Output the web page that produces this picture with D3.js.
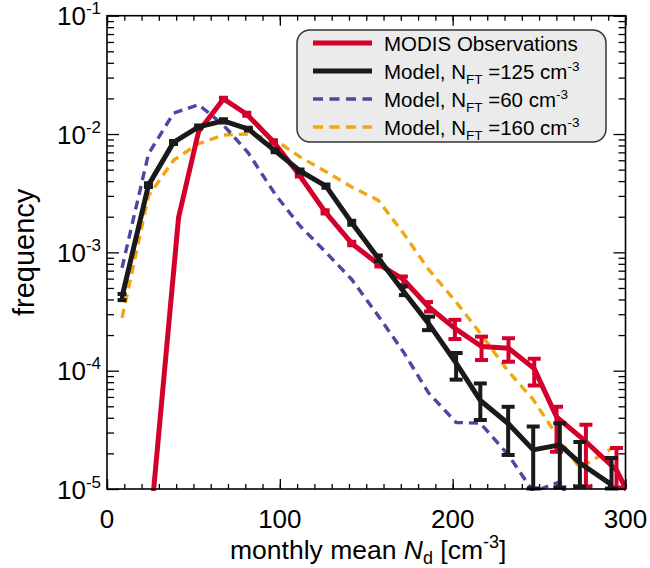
<!DOCTYPE html>
<html><head><meta charset="utf-8">
<script src="https://cdn.jsdelivr.net/npm/d3@7"></script>
<style>
body{margin:0;background:#fff}
svg{display:block}
text{font-family:"Liberation Sans",Arial,sans-serif;fill:#000}
</style>
</head><body>
<svg id="c" width="650" height="568"></svg>
<script>
// ---------- data ----------
const xTicksMajor = [0, 100, 200, 300];
const xTicksMinor = d3.range(0, 301, 10);
const yTicksMajor = [1e-1, 1e-2, 1e-3, 1e-4, 1e-5];
const yTickExp = ["-1", "-2", "-3", "-4", "-5"];

// MODIS observations (bin mean Nd, frequency, error low/high)
const modisX  = [7.5, 24, 41.4, 53, 67.4, 80.9, 96.3, 111.3, 126.2, 141.6, 157.3, 171.5, 186, 201.3, 216.7, 232.3, 247.2, 260.1, 277.1, 294.8, 305];
const modisY  = [1e-6, 3.3e-6, 1.97e-3, 1.05e-2, 1.98e-2, 1.47e-2, 8.6e-3, 4.5e-3, 2.2e-3, 1.19e-3, 7.9e-4, 5.9e-4, 3.47e-4, 2.28e-4, 1.6e-4, 1.55e-4, 1.04e-4, 4.07e-5, 2.51e-5, 1.44e-5, 7.4e-6];
const modisLo = [null, null, null, null, 1.93e-2, 1.43e-2, 8.35e-3, 4.37e-3, 2.13e-3, 1.15e-3, 7.6e-4, 5.3e-4, 3.16e-4, 1.85e-4, 1.23e-4, 1.19e-4, 7.5e-5, 2.06e-5, 1.05e-5, 1.03e-5, null];
const modisHi = [null, null, null, null, 2.03e-2, 1.51e-2, 8.85e-3, 4.63e-3, 2.27e-3, 1.23e-3, 8.2e-4, 6.25e-4, 3.8e-4, 2.69e-4, 1.94e-4, 1.88e-4, 1.26e-4, 4.95e-5, 3.49e-5, 2.22e-5, null];

// Model runs
const modelX = [8.7, 24, 38.5, 53, 67.4, 81.8, 97.3, 111.7, 126.7, 141.6, 157, 171.5, 186, 202, 216, 232.1, 246.6, 262, 273.6, 291.9];
const model125   = [4.2e-4, 3.7e-3, 8.5e-3, 1.15e-2, 1.29e-2, 1.1e-2, 7.2e-3, 4.87e-3, 3.63e-3, 1.78e-3, 8.9e-4, 4.7e-4, 2.51e-4, 1.16e-4, 5.6e-5, 3.58e-5, 2.14e-5, 2.36e-5, 1.66e-5, 1.09e-5];
const model125Lo = [3.95e-4, 3.57e-3, 8.25e-3, 1.12e-2, 1.25e-2, 1.07e-2, 7.0e-3, 4.72e-3, 3.52e-3, 1.71e-3, 8.45e-4, 4.35e-4, 2.2e-4, 8.4e-5, 3.83e-5, 1.94e-5, 1.01e-5, 1.03e-5, 1.05e-5, 1.01e-5];
const model125Hi = [4.45e-4, 3.83e-3, 8.75e-3, 1.18e-2, 1.33e-2, 1.13e-2, 7.4e-3, 5.02e-3, 3.74e-3, 1.85e-3, 9.4e-4, 5.15e-4, 2.86e-4, 1.41e-4, 7.8e-5, 4.95e-5, 3.37e-5, 3.6e-5, 2.5e-5, 1.83e-5];
const model60  = [7.4e-4, 6.8e-3, 1.5e-2, 1.77e-2, 1.19e-2, 6.9e-3, 3.1e-3, 1.67e-3, 1.0e-3, 5.9e-4, 2.9e-4, 1.44e-4, 6.5e-5, 3.65e-5, 3.6e-5, 1.95e-5, 9.5e-6, 1.15e-5, 5e-6, 4e-6];
const model160 = [2.8e-4, 3.0e-3, 6.0e-3, 8.3e-3, 9.8e-3, 1.0e-2, 8.9e-3, 6.4e-3, 4.8e-3, 3.57e-3, 2.75e-3, 1.45e-3, 7.2e-4, 3.8e-4, 2.07e-4, 9.9e-5, 5.7e-5, 2.6e-5, 1.5e-5, 2.2e-5];

const legendLabels = ["MODIS Observations", "Model, N", "Model, N", "Model, N"];
const legendNft = [null, "125", "60", "160"];

// ---------- layout ----------
const L = 107, R = 625.5, T = 15.7, B = 489;
const C_RED = "#d2002b", C_BLK = "#1a1a1a", C_BLUE = "#4a48a2", C_ORG = "#f2a612";

const svg = d3.select("#c");
const x = d3.scaleLinear().domain([0, 300]).range([L, R]);
const y = d3.scaleLog().domain([1e-5, 1e-1]).range([B, T]);

svg.append("defs").append("clipPath").attr("id", "clip")
  .append("rect").attr("x", L).attr("y", T).attr("width", R - L).attr("height", B - T + 2);

// ---------- axes (ticks on all four sides, inward) ----------
const yMinor = y.ticks().filter(v => !yTicksMajor.some(m => Math.abs(m - v) / m < 1e-6));
function styleAxis(g) {
  g.select(".domain").remove();
  g.selectAll("line").attr("stroke", "#000").attr("stroke-width", 1.3);
  g.selectAll("text").remove();
}
svg.append("g").attr("transform", `translate(0,${B})`).call(d3.axisBottom(x).tickValues(xTicksMajor).tickSize(-10)).call(styleAxis);
svg.append("g").attr("transform", `translate(0,${B})`).call(d3.axisBottom(x).tickValues(xTicksMinor).tickSize(-5)).call(styleAxis);
svg.append("g").attr("transform", `translate(0,${T})`).call(d3.axisTop(x).tickValues(xTicksMajor).tickSize(-10)).call(styleAxis);
svg.append("g").attr("transform", `translate(0,${T})`).call(d3.axisTop(x).tickValues(xTicksMinor).tickSize(-5)).call(styleAxis);
svg.append("g").attr("transform", `translate(${L},0)`).call(d3.axisLeft(y).tickValues(yTicksMajor).tickSize(-12)).call(styleAxis);
svg.append("g").attr("transform", `translate(${L},0)`).call(d3.axisLeft(y).tickValues(yMinor).tickSize(-7)).call(styleAxis);
svg.append("g").attr("transform", `translate(${R},0)`).call(d3.axisRight(y).tickValues(yTicksMajor).tickSize(-12)).call(styleAxis);
svg.append("g").attr("transform", `translate(${R},0)`).call(d3.axisRight(y).tickValues(yMinor).tickSize(-7)).call(styleAxis);

// tick labels
svg.append("g").selectAll("text").data(xTicksMajor).join("text")
  .attr("x", d => x(d)).attr("y", 528).attr("text-anchor", "middle")
  .attr("font-size", 26).text(d => d);

const yl = svg.append("g").selectAll("text").data(yTicksMajor).join("text")
  .attr("x", 101).attr("y", d => y(d) + 9.5).attr("text-anchor", "end").attr("font-size", 26);
yl.append("tspan").text("10");
yl.append("tspan").attr("font-size", 17).attr("dy", -11).text((d, i) => yTickExp[i]);

// axis titles
const xt = svg.append("text").attr("x", (L + R) / 2 + 2).attr("y", 559).attr("text-anchor", "middle").attr("font-size", 26.5);
xt.append("tspan").text("monthly mean ");
xt.append("tspan").attr("font-style", "italic").text("N");
xt.append("tspan").attr("font-size", 18).attr("dy", 5).text("d");
xt.append("tspan").attr("dy", -5).text(" [cm");
xt.append("tspan").attr("font-size", 18).attr("dy", -11).text("-3");
xt.append("tspan").attr("dy", 11).text("]");

svg.append("text").attr("transform", `translate(34,${(T + B) / 2}) rotate(-90)`)
  .attr("text-anchor", "middle").attr("font-size", 29).text("frequency");

// ---------- series ----------
const plot = svg.append("g").attr("clip-path", "url(#clip)");
const line = d3.line().x(d => x(d[0])).y(d => y(d[1]));
const pts = (xs, ys) => xs.map((v, i) => [v, ys[i]]);

plot.append("path").datum(pts(modelX, model160)).attr("d", line)
  .attr("fill", "none").attr("stroke", C_ORG).attr("stroke-width", 3.4).attr("stroke-dasharray", "9,6");
plot.append("path").datum(pts(modelX, model60)).attr("d", line)
  .attr("fill", "none").attr("stroke", C_BLUE).attr("stroke-width", 3.4).attr("stroke-dasharray", "9,6");

function errBars(xs, lo, hi, color) {
  const g = plot.append("g").attr("stroke", color).attr("stroke-width", 4);
  xs.forEach((xv, i) => {
    if (lo[i] == null) return;
    const cx = x(xv), y0 = y(lo[i]), y1 = y(hi[i]);
    const hw = (y0 - y1) < 12 ? 4.5 : 6.5;
    g.append("line").attr("x1", cx).attr("x2", cx).attr("y1", y0).attr("y2", y1);
    g.append("line").attr("x1", cx - hw).attr("x2", cx + hw).attr("y1", y0).attr("y2", y0);
    g.append("line").attr("x1", cx - hw).attr("x2", cx + hw).attr("y1", y1).attr("y2", y1);
  });
}

plot.append("path").datum(pts(modisX, modisY)).attr("d", line)
  .attr("fill", "none").attr("stroke", C_RED).attr("stroke-width", 5).attr("stroke-linejoin", "round");
errBars(modisX, modisLo, modisHi, C_RED);
plot.append("path").datum(pts(modelX, model125)).attr("d", line)
  .attr("fill", "none").attr("stroke", C_BLK).attr("stroke-width", 5).attr("stroke-linejoin", "round");
errBars(modelX, model125Lo, model125Hi, C_BLK);

// frame
svg.append("rect").attr("x", L).attr("y", T).attr("width", R - L).attr("height", B - T)
  .attr("fill", "none").attr("stroke", "#000").attr("stroke-width", 1.6);

// ---------- legend ----------
const lg = svg.append("g");
lg.append("rect").attr("x", 297).attr("y", 30).attr("width", 309).attr("height", 112).attr("rx", 13)
  .attr("fill", "#ebebeb").attr("stroke", "#333").attr("stroke-width", 1.5);
const legendStyles = [
  {c: C_RED, w: 5, dash: null},
  {c: C_BLK, w: 5, dash: null},
  {c: C_BLUE, w: 3.4, dash: "10,6.5"},
  {c: C_ORG, w: 3.4, dash: "10,6.5"}
];
const rowY = [43, 71, 99, 127];
legendLabels.forEach((lab, i) => {
  const st = legendStyles[i];
  lg.append("line").attr("x1", 313).attr("x2", 372).attr("y1", rowY[i]).attr("y2", rowY[i])
    .attr("stroke", st.c).attr("stroke-width", st.w).attr("stroke-dasharray", st.dash);
  const t = lg.append("text").attr("x", 384).attr("y", rowY[i] + 7.5).attr("font-size", 20.5);
  t.append("tspan").text(lab);
  if (legendNft[i]) {
    t.append("tspan").attr("font-size", 13.5).attr("dy", 5).text("FT");
    t.append("tspan").attr("dy", -5).text(" =" + legendNft[i] + " cm");
    t.append("tspan").attr("font-size", 13.5).attr("dy", -8).text("-3");
  }
});
</script>
</body></html>
